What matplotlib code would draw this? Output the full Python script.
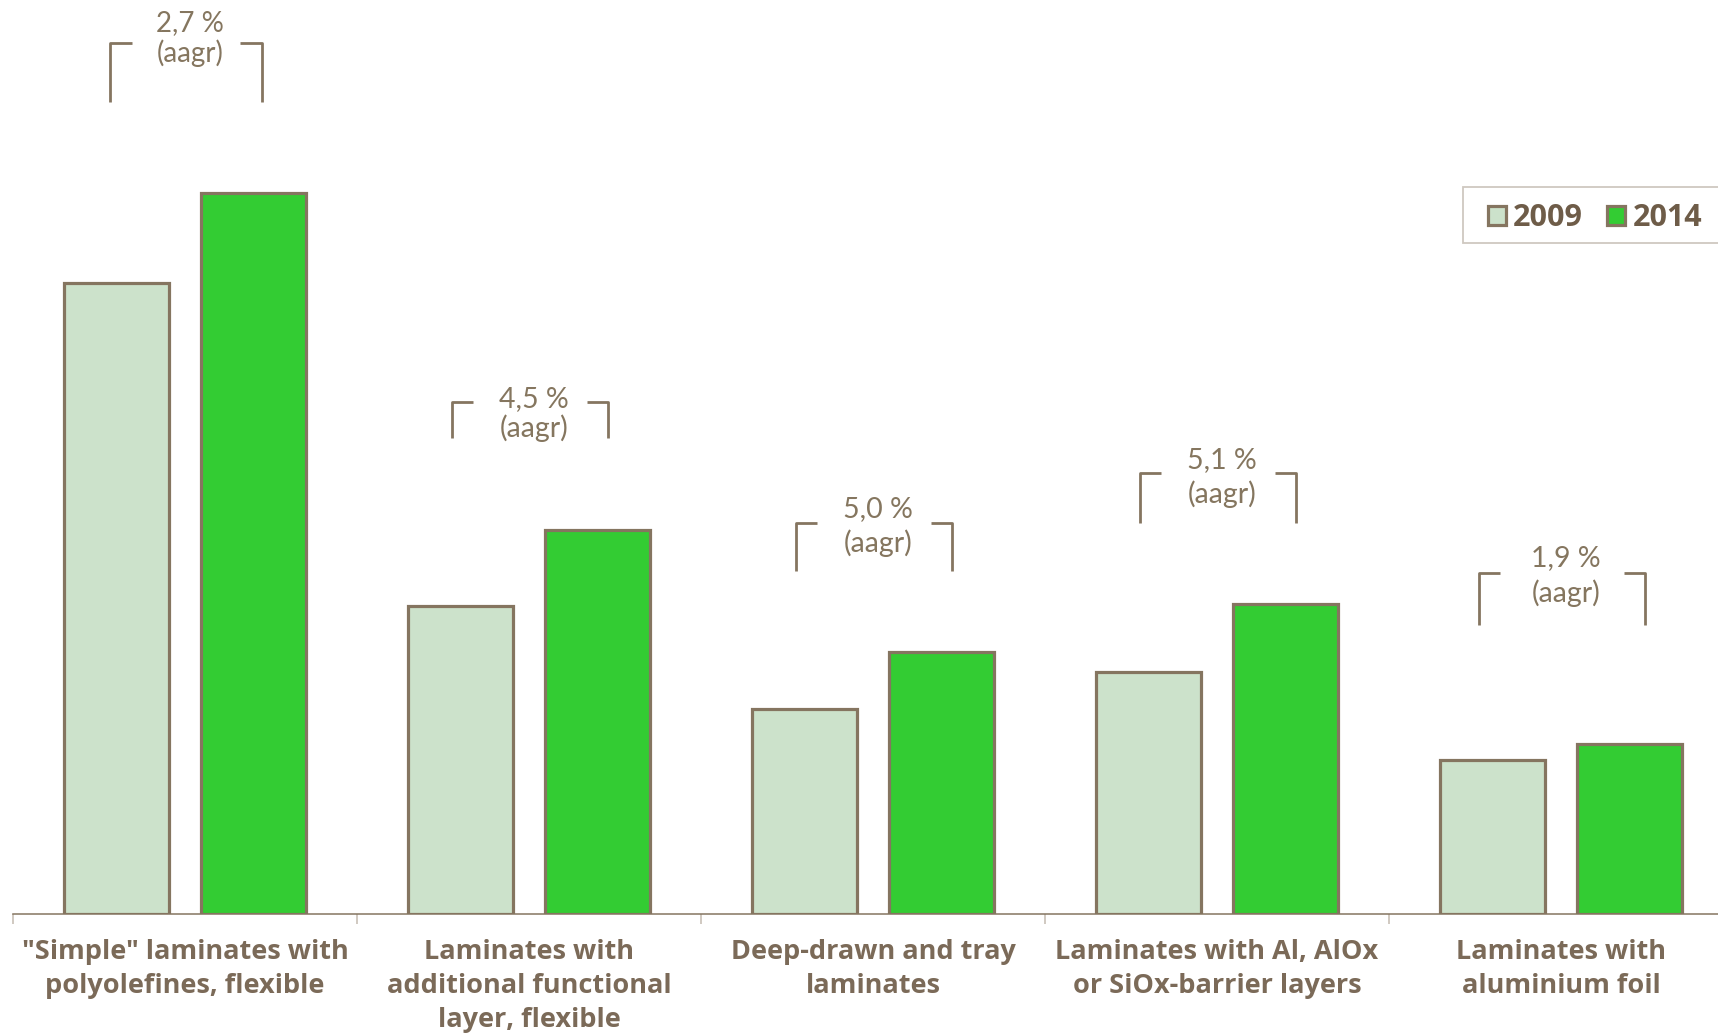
import numpy as np
import matplotlib.pyplot as plt
from matplotlib.patches import Rectangle

plt.rcParams['font.family'] = ['Open Sans', 'DejaVu Sans']

# data (no scale shown, arbitrary units)
categories = ['"Simple" laminates with\npolyolefines, flexible',
              'Laminates with\nadditional functional\nlayer, flexible',
              'Deep-drawn and tray\nlaminates',
              'Laminates with Al, AlOx\nor SiOx-barrier layers',
              'Laminates with\naluminium foil']
years = ['2009', '2014']
values_2009 = [631, 308, 205, 242, 154]
values_2014 = [721, 384, 262, 310, 170]
growth = ['2,7 %', '4,5 %', '5,0 %', '5,1 %', '1,9 %']

# bracket placement (same units as the bars)
bracket_top = [871, 512, 391, 441, 341]
bracket_bottom = [812, 476, 343, 391, 289]
bracket_width = [0.44, 0.456, 0.456, 0.456, 0.485]
text_base1 = [883, 507, 397, 446, 348]
text_base2 = [852, 477, 362, 411, 312]
text_size = [20, 20.5, 20.5, 20.5, 20.5]

light = '#cce2cb'
green = '#33cc33'
edge = '#857560'
label_col = '#7b6a58'
note_col = '#85765f'

fig = plt.figure(figsize=(17.18, 10.34), dpi=100)
ax = fig.add_axes([13 / 1718, 120 / 1034, 1720 / 1718, 914 / 1034])

x = np.arange(len(categories))
w = 0.305
ax.bar(x - 0.198, values_2009, w, color=light, edgecolor=edge, linewidth=2.3, label=years[0])
ax.bar(x + 0.198, values_2014, w, color=green, edgecolor=edge, linewidth=2.3, label=years[1])

ax.set_xlim(-0.5, 4.5)
ax.set_ylim(0, 914)

# growth brackets
stub = 0.062
for i in range(len(categories)):
    cx = x[i] + 0.003
    l = cx - bracket_width[i] / 2
    r = cx + bracket_width[i] / 2
    t, b = bracket_top[i], bracket_bottom[i]
    ax.plot([l, l, l + stub], [b, t, t], color=edge, lw=2, solid_capstyle='butt', clip_on=False)
    ax.plot([r - stub, r, r], [t, t, b], color=edge, lw=2, solid_capstyle='butt', clip_on=False)
    ax.text(cx + 0.012, text_base1[i], growth[i], ha='center', va='baseline',
            fontsize=text_size[i], color=note_col, family=['Lato', 'DejaVu Sans'])
    ax.text(cx + 0.012, text_base2[i], '(aagr)', ha='center', va='baseline',
            fontsize=text_size[i], color=note_col, family=['Lato', 'DejaVu Sans'])

# axis styling
for s in ['top', 'right', 'left']:
    ax.spines[s].set_visible(False)
ax.spines['bottom'].set_color(edge)
ax.spines['bottom'].set_linewidth(1.1)
ax.set_yticks([])
ax.set_xticks(np.arange(len(categories) + 1) - 0.5)
ax.set_xticklabels([])
ax.tick_params(axis='x', which='major', length=7, width=1.2, color='#c8c0b6')
ax.set_xticks(x, minor=True)
ax.set_xticklabels(categories, minor=True, fontsize=19.5, fontweight='bold',
                   color=label_col, linespacing=1.4)
ax.tick_params(axis='x', which='minor', length=0, pad=18)

# legend
fig.patches.append(Rectangle((1463 / 1718, 1 - 243 / 1034), 270 / 1718, 56 / 1034,
                             transform=fig.transFigure, facecolor='white',
                             edgecolor='#cfc8c0', lw=1.3, clip_on=False))
leg = fig.legend(loc='center left', bbox_to_anchor=(1488 / 1718, 1 - 218 / 1034),
                 ncol=2, frameon=False, prop={'weight': 'bold', 'size': 22},
                 handlelength=0.59, handleheight=0.56, handletextpad=0.23,
                 columnspacing=0.8, borderpad=0, borderaxespad=0)
for t in leg.get_texts():
    t.set_color('#6e5c48')

fig.savefig('out.png', dpi=100)
